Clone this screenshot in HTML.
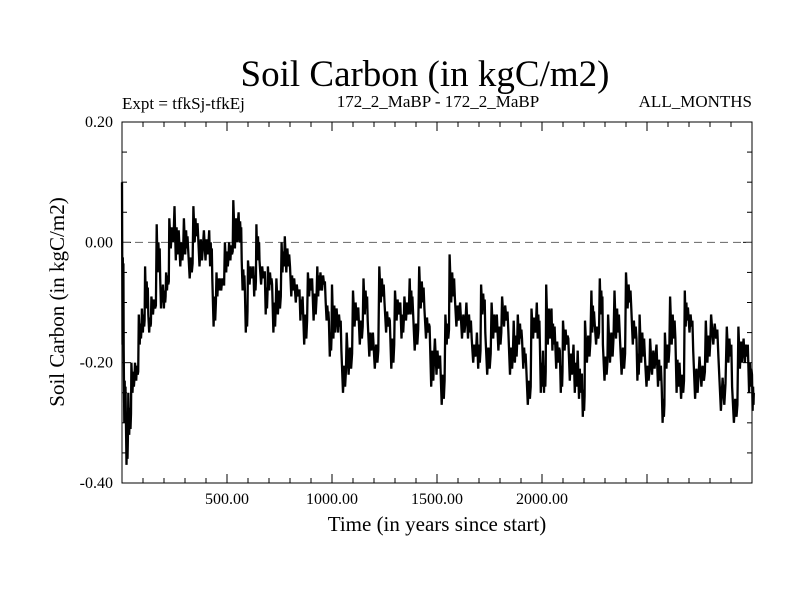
<!DOCTYPE html>
<html><head><meta charset="utf-8"><style>
body{margin:0;background:#fff;}
svg text{font-family:"Liberation Serif",serif;fill:#000;}
</style></head><body>
<svg id="chart" width="800" height="600" viewBox="0 0 800 600" xmlns="http://www.w3.org/2000/svg">
<rect width="800" height="600" fill="#fff"/>
<text x="425" y="86" font-size="37" text-anchor="middle">Soil Carbon (in kgC/m2)</text>
<text x="122" y="109" font-size="17">Expt = tfkSj-tfkEj</text>
<text x="438" y="107" font-size="17" text-anchor="middle">172_2_MaBP - 172_2_MaBP</text>
<text x="752" y="107" font-size="17" text-anchor="end">ALL_MONTHS</text>
<text x="437" y="531" font-size="21" text-anchor="middle">Time (in years since start)</text>
<text transform="translate(64,302) rotate(-90)" font-size="21" text-anchor="middle">Soil Carbon (in kgC/m2)</text>
<g id="axes"></g>
<g id="series"></g>
<rect x="122" y="122" width="630" height="361" fill="none" stroke="#000" stroke-width="1"/>
</svg>
<script>
const xTickLabels = [500, 1000, 1500, 2000];
const yTickLabels = [0.20, 0.00, -0.20, -0.40];
const years = [0,8,18,30,45,62,80,95,110,125,140,165,182,195,210,225,250,270,295,315,340,360,390,415,430,450,465,490,510,530,555,570,585,600,625,640,655,680,695,715,735,760,775,800,820,845,860,885,905,930,945,970,985,1000,1022,1045,1070,1100,1125,1150,1170,1195,1225,1250,1275,1300,1325,1345,1370,1385,1415,1440,1465,1490,1515,1540,1560,1585,1610,1640,1665,1690,1710,1730,1760,1785,1810,1840,1865,1885,1905,1925,1950,1975,1990,2005,2020,2045,2060,2085,2100,2125,2150,2170,2190,2205,2235,2250,2275,2290,2315,2345,2370,2400,2425,2450,2465,2490,2515,2545,2570,2585,2610,2635,2655,2680,2695,2720,2750,2780,2805,2840,2880,2905,2935,2960,2980,3000];
const hiVals = [0.10,-0.18,-0.28,-0.25,-0.20,-0.20,-0.12,-0.11,-0.04,-0.12,-0.09,0.03,-0.06,-0.07,-0.05,0.04,0.06,0.02,0.04,-0.01,0.06,0.03,0.02,0.02,-0.06,-0.05,-0.06,0.0,0.0,0.07,0.05,-0.03,-0.08,-0.03,-0.04,0.03,-0.03,-0.05,-0.04,-0.07,-0.06,0.0,0.01,-0.04,-0.06,-0.08,-0.09,-0.05,-0.06,-0.04,-0.05,-0.10,-0.13,-0.07,-0.11,-0.18,-0.15,-0.08,-0.11,-0.06,-0.13,-0.15,-0.04,-0.10,-0.13,-0.08,-0.10,-0.09,-0.06,-0.11,-0.04,-0.11,-0.14,-0.16,-0.19,-0.12,-0.02,-0.09,-0.10,-0.10,-0.16,-0.15,-0.07,-0.15,-0.10,-0.12,-0.09,-0.15,-0.13,-0.12,-0.16,-0.21,-0.11,-0.10,-0.17,-0.18,-0.07,-0.11,-0.14,-0.18,-0.13,-0.16,-0.17,-0.18,-0.22,-0.13,-0.08,-0.13,-0.06,-0.17,-0.12,-0.08,-0.15,-0.05,-0.11,-0.16,-0.12,-0.19,-0.16,-0.17,-0.24,-0.15,-0.09,-0.16,-0.20,-0.08,-0.11,-0.18,-0.19,-0.13,-0.12,-0.19,-0.14,-0.24,-0.14,-0.16,-0.17,-0.22];
const loVals = [-0.17,-0.30,-0.37,-0.32,-0.25,-0.23,-0.17,-0.15,-0.11,-0.15,-0.12,-0.05,-0.11,-0.11,-0.08,-0.01,-0.03,-0.04,-0.02,-0.06,0.0,-0.04,-0.03,-0.04,-0.14,-0.09,-0.08,-0.05,-0.03,-0.01,0.0,-0.08,-0.15,-0.07,-0.09,-0.03,-0.07,-0.12,-0.08,-0.15,-0.12,-0.05,-0.05,-0.09,-0.10,-0.13,-0.17,-0.09,-0.13,-0.09,-0.08,-0.13,-0.19,-0.16,-0.15,-0.25,-0.22,-0.14,-0.17,-0.12,-0.19,-0.21,-0.10,-0.15,-0.21,-0.13,-0.16,-0.13,-0.12,-0.18,-0.11,-0.16,-0.24,-0.22,-0.27,-0.17,-0.10,-0.14,-0.16,-0.16,-0.20,-0.21,-0.12,-0.22,-0.16,-0.18,-0.14,-0.22,-0.20,-0.17,-0.21,-0.27,-0.16,-0.16,-0.25,-0.25,-0.17,-0.18,-0.21,-0.25,-0.18,-0.23,-0.25,-0.26,-0.29,-0.20,-0.15,-0.17,-0.12,-0.23,-0.20,-0.16,-0.22,-0.11,-0.17,-0.23,-0.20,-0.24,-0.22,-0.24,-0.30,-0.21,-0.17,-0.25,-0.26,-0.14,-0.15,-0.26,-0.24,-0.20,-0.17,-0.28,-0.20,-0.30,-0.21,-0.20,-0.25,-0.28];

const NS = "http://www.w3.org/2000/svg";
const L = 122, R = 752, T = 122, B = 483;
const X0 = 0, X1 = 3000, Y0 = -0.40, Y1 = 0.20;
function xs(v){ return L + (v - X0) / (X1 - X0) * (R - L); }
function ys(v){ return B - (v - Y0) / (Y1 - Y0) * (B - T); }

const axes = document.getElementById('axes');
function line(x1,y1,x2,y2,extra){
  const l = document.createElementNS(NS,'line');
  l.setAttribute('x1',x1); l.setAttribute('y1',y1); l.setAttribute('x2',x2); l.setAttribute('y2',y2);
  l.setAttribute('stroke', '#000'); l.setAttribute('stroke-width','1');
  if (extra) l.setAttribute('stroke-dasharray', extra);
  axes.appendChild(l);
  return l;
}
for (let t = 100; t < 3000; t += 100) {
  const major = t % 500 === 0;
  const len = major ? 9 : 5;
  const x = xs(t);
  const a = line(x, B, x, B - len);
  
  
  const b = line(x, T, x, T + len);
  
  
}
xTickLabels.forEach(v => {
  const tx = document.createElementNS(NS,'text');
  tx.setAttribute('x', xs(v)); tx.setAttribute('y', 504);
  tx.setAttribute('font-size','16'); tx.setAttribute('text-anchor','middle');
  tx.textContent = v.toFixed(2);
  
  
  axes.appendChild(tx);
});
for (let i = 1; i < 12; i++) {
  const v = Y0 + i * 0.05;
  const major = i % 4 === 0;
  const len = major ? 9 : 5;
  const y = ys(v);
  const a = line(L, y, L + len, y);
  
  
  const b = line(R, y, R - len, y);
  
  
}
yTickLabels.forEach(v => {
  const tx = document.createElementNS(NS,'text');
  tx.setAttribute('x', 113); tx.setAttribute('y', ys(v) + 5);
  tx.setAttribute('font-size','16'); tx.setAttribute('text-anchor','end');
  tx.textContent = v.toFixed(2);
  
  
  axes.appendChild(tx);
});
const zl = line(L, ys(0), R, ys(0), '8,5');
zl.setAttribute('stroke', '#666');



const pts = [];
for (let i = 0; i < years.length; i++) {
  const y = years[i];
  const nextY = i + 1 < years.length ? years[i+1] : y + 10;
  const step = (nextY - y);
  pts.push([xs(y), ys(hiVals[i])]);
  pts.push([xs(y + step * 0.3), ys(loVals[i])]);
  pts.push([xs(y + step * 0.5), ys((hiVals[i] + loVals[i]) / 2 + 0.01)]);
  pts.push([xs(y + step * 0.7), ys(loVals[i] + 0.01)]);
  pts.push([xs(y + step * 0.85), ys((hiVals[i] + loVals[i]) / 2)]);
}
const pl = document.createElementNS(NS,'polyline');
pl.setAttribute('points', pts.map(p => p[0].toFixed(1) + ',' + p[1].toFixed(1)).join(' '));
pl.setAttribute('fill','none'); pl.setAttribute('stroke','#000'); pl.setAttribute('stroke-width','2.3');
pl.setAttribute('stroke-linejoin','miter');


document.getElementById('series').appendChild(pl);
</script>
</body></html>
